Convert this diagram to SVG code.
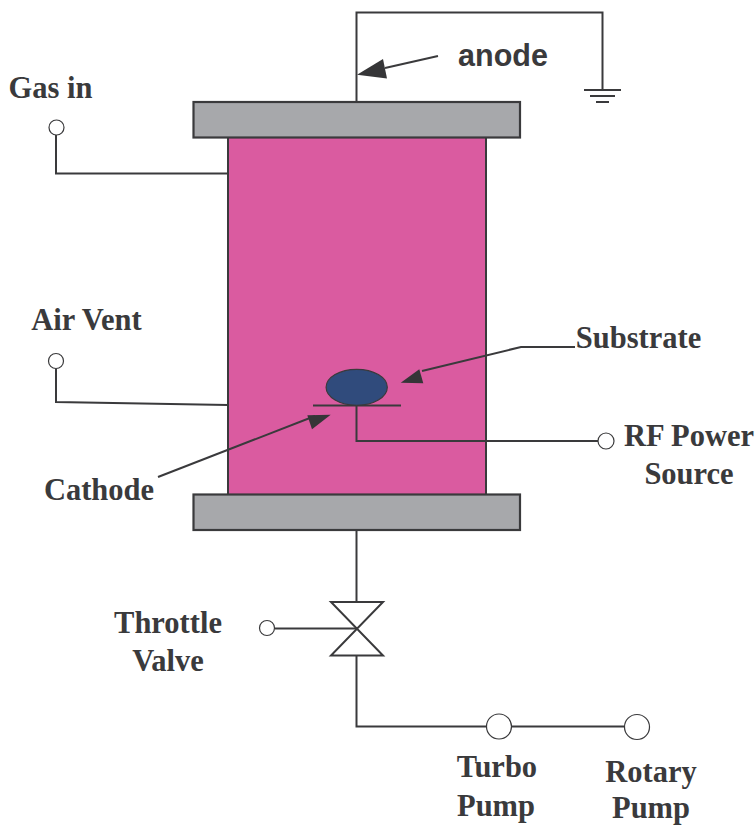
<svg xmlns="http://www.w3.org/2000/svg" width="755" height="825" viewBox="0 0 755 825">
<style>
.l{fill:none;stroke:#3a3a3c;stroke-width:2}
.c{fill:#fff;stroke:#3a3a3c;stroke-width:1.2}
.a{fill:#353537;stroke:none}
.t{font-family:"Liberation Serif",serif;font-weight:bold;font-size:30.5px;fill:#3a3a3c;text-anchor:middle}
.p{fill:#a7a8ab;stroke:#3a3a3c;stroke-width:2.200}
</style>
<rect width="755" height="825" fill="#fff"/>
<g id="chamber"><rect x="228" y="137" width="258" height="358" fill="#da5ba0" stroke="#3a3a3c" stroke-width="2"/></g>
<g id="top-plate"><rect class="p" x="193.500" y="102" width="326.500" height="35.500"/></g>
<g id="bottom-plate"><rect class="p" x="193.500" y="494.500" width="326.500" height="35.500"/></g>
<g id="connectors">
<path class="l" d="M356.500 102V12.500H602.500V90"/>
<path class="l" d="M584 90H621M590 96H615M596 102H609"/>
<path class="l" d="M56 135V173.500H228"/>
<path class="l" d="M56 369V402L228 405"/>
<path class="l" d="M313 405.500H401"/>
<path class="l" d="M356.500 405.500V441H598"/>
<path class="l" d="M356.500 530V602"/>
<path class="l" d="M275 628.500H356"/>
<path class="l" d="M331 602H383L331 655.500H383Z"/>
<path class="l" d="M356.500 656V726.500H486"/>
<path class="l" d="M512 726.500H624"/>
<path class="l" d="M438 56L385 68"/>
<path class="a" d="M357 74.700L383 59L387 78.500Z"/>
<path class="l" d="M575 347H521L422 371"/>
<path class="a" d="M400.700 382.700L419.300 369.300L423.300 383.300Z"/>
<path class="l" d="M158 477L315 416"/>
<path class="a" d="M330.700 414.700L307.300 415.300L312 429.300Z"/>
</g>
<g id="gas-in"><circle class="c" cx="56.500" cy="127.500" r="7.500"/><text class="t" x="50.500" y="98">Gas in</text></g>
<g id="air-vent"><circle class="c" cx="56" cy="361" r="7.500"/><text class="t" x="86.500" y="330">Air Vent</text></g>
<g id="anode"><text x="503" y="66" font-family="Liberation Sans,sans-serif" font-weight="bold" font-size="30.500" fill="#3a3a3c" text-anchor="middle">anode</text></g>
<g id="substrate"><ellipse cx="356.700" cy="387.300" rx="30.600" ry="18" fill="#304b7c" stroke="#3a3a3c" stroke-width="1.200"/><text class="t" x="638.500" y="348">Substrate</text></g>
<g id="rf-power"><circle class="c" cx="606" cy="441" r="8"/><text class="t" x="689" y="446">RF Power</text><text class="t" x="689" y="484">Source</text></g>
<g id="cathode"><text class="t" x="99" y="500">Cathode</text></g>
<g id="throttle-valve"><circle class="c" cx="267" cy="628" r="7.500"/><text class="t" x="168" y="633">Throttle</text><text class="t" x="168" y="671">Valve</text></g>
<g id="turbo-pump"><circle class="c" cx="499" cy="726.500" r="12.500"/><text class="t" x="497" y="777">Turbo</text><text class="t" x="496" y="816">Pump</text></g>
<g id="rotary-pump"><circle class="c" cx="637" cy="727" r="12.500"/><text class="t" x="651" y="782">Rotary</text><text class="t" x="651" y="818">Pump</text></g>
</svg>
